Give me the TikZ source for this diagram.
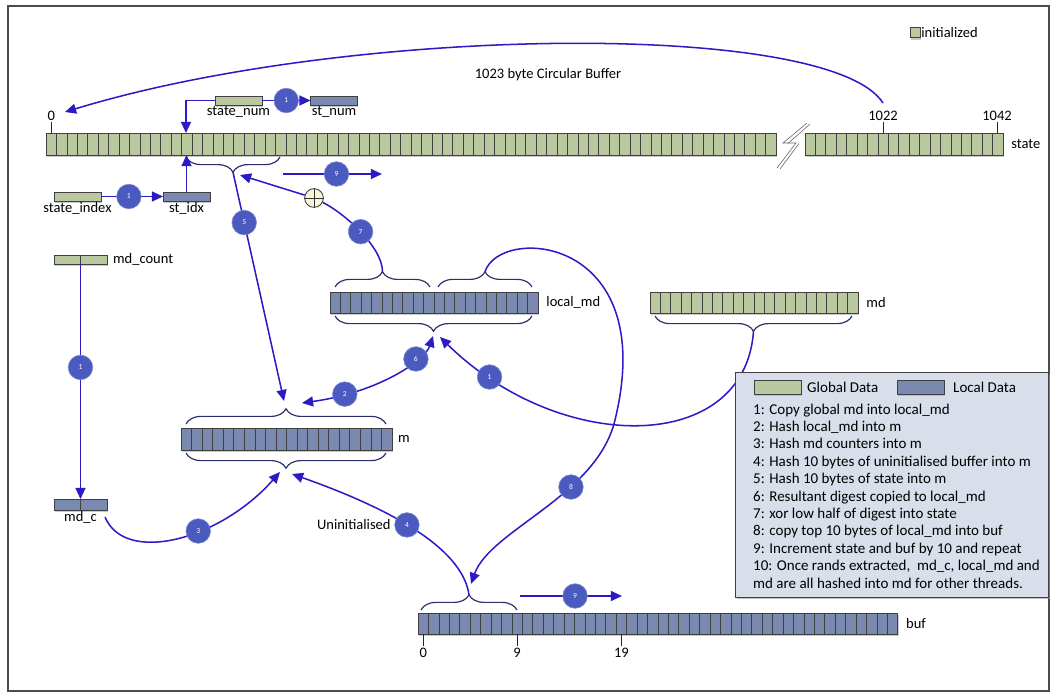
\documentclass[tikz,border=0pt]{standalone}
\usepackage{fontspec}
\setmainfont{Carlito}
\usepackage{tikz}
\usetikzlibrary{arrows.meta}
\usetikzlibrary{decorations.pathreplacing,shadows,calc}

\definecolor{globgreen}{RGB}{186,200,160}
\definecolor{locblue}{RGB}{122,137,176}
\definecolor{flowblue}{RGB}{44,26,196}
\definecolor{stepblue}{RGB}{74,90,190}
\definecolor{bracecol}{RGB}{45,45,105}
\definecolor{keybg}{RGB}{217,222,235}
\definecolor{xorfill}{RGB}{246,246,214}

\tikzset{
  bytecells/.style={draw=black!75, line width=0.8pt, inner sep=0pt, outer sep=0pt,
    drop shadow={shadow xshift=0.8pt, shadow yshift=-1.6pt, fill=black!35, opacity=0.6}},
  cellline/.style={draw=black!75, line width=0.6pt},
  bytebar/.style={bytecells, minimum width=1.41cm, minimum height=0.27cm},
  flow/.style={draw=flowblue, line width=1.3pt, ->},
  flowboth/.style={draw=flowblue, line width=1.3pt, <->},
  stepnum/.style={circle, fill=stepblue, draw=stepblue!70!white, line width=0.5pt,
    text=white, font=\fontsize{6.5}{6.5}\selectfont, minimum size=21pt, inner sep=0pt},
  bracetop/.style={draw=bracecol, line width=1pt, decorate,
    decoration={brace, amplitude=13pt}},
  bracebot/.style={draw=bracecol, line width=1pt, decorate,
    decoration={brace, mirror, amplitude=13pt}},
  lbl/.style={font=\fontsize{12.4}{14}\selectfont, inner sep=1pt},
  keytext/.style={font=\fontsize{12.8}{15}\selectfont, inner sep=0pt},
  idxtick/.style={draw=black!85, line width=0.8pt}
}

% row of cells: name, left, top, count, cell width, height, colour
\newcommand{\cellrow}[7]{%
  \node[bytecells, fill=#7, anchor=north west, minimum width={#4*#5*0.03cm},
    minimum height={#6*0.03cm}] (#1) at (#2,#3) {};
  \pgfmathtruncatemacro{\lastcell}{#4-1}
  \foreach \k in {1,...,\lastcell}
    \draw[cellline] ([xshift={\k*#5*0.03cm}]#1.north west) -- ([xshift={\k*#5*0.03cm}]#1.south west);
}

\begin{document}
\begin{tikzpicture}[x=0.03cm, y=-0.03cm, >={Triangle[length=9.5pt,width=8.5pt]}]
\useasboundingbox (0,0) rectangle (1054,695);
\draw[black!70, line width=1.3pt] (8,6) rectangle (1049,691);

% arrays
\cellrow{state}{46}{133}{70}{10.43}{22}{globgreen}
\cellrow{statehi}{805}{133}{19}{10.42}{22}{globgreen}
\cellrow{localmd}{330}{292}{20}{10.4}{21}{locblue}
\cellrow{md}{650}{292}{20}{10.4}{21}{globgreen}
\cellrow{m}{181}{428}{20}{10.55}{22}{locblue}
\cellrow{buf}{418}{613}{46}{10.43}{21}{locblue}
\cellrow{mdcount}{54}{255}{2}{26.5}{9}{globgreen}
\cellrow{mdc}{54}{499}{2}{26.5}{11}{locblue}

\node[bytebar, fill=globgreen] (snum) at (238.5,100.5) {};
\node[bytebar, fill=locblue] (stnum) at (334,100.5) {};
\node[bytebar, fill=globgreen] (sidx) at (77.5,196.5) {};
\node[bytebar, fill=locblue] (stidx) at (186.5,196.5) {};

% break in state
\draw[black!60, line width=0.5pt] (807,123) -- (783,143) -- (796,143) -- (777,168);
\draw[black!60, line width=0.5pt] (810,124) -- (788,143.5) (799,143.5) -- (780,169);

% labels
\node[lbl, anchor=north] (lsnum) at (snum.south) {state\_num};
\node[lbl, anchor=north] (lstnum) at (stnum.south) {st\_num};
\node[lbl, anchor=north] (lsidx) at (sidx.south) {state\_index};
\node[lbl, anchor=north] (lstidx) at (stidx.south) {st\_idx};
\node[lbl, anchor=west] (lmdcount) at ([xshift=4pt]mdcount.east) {md\_count};
\node[lbl, anchor=north] (lmdc) at (mdc.south) {md\_c};
\node[lbl, anchor=west] (lstate) at ([xshift=6pt]statehi.east) {state};
\node[lbl, anchor=west] (llocalmd) at ([xshift=6pt]localmd.east) {local\_md};
\node[lbl, anchor=west] (lmd) at ([xshift=6pt]md.east) {md};
\node[lbl, anchor=west] (lm) at ([xshift=4pt]m.east) {m};
\node[lbl, anchor=west] (lbuf) at ([xshift=6pt]buf.east) {buf};
\node[lbl] (title) at (548,75) {1023 byte Circular Buffer};
\node[bytecells, fill=globgreen, minimum width=0.3cm, minimum height=0.32cm] (iniswatch) at (915,32.5) {};
\node[lbl, anchor=west] (lini) at (iniswatch.east) {initialized};

% index ticks
\draw[idxtick] (51.2,133) -- (51.2,122) node[lbl, above] (i0) {0};
\draw[idxtick] (883,133) -- (883,122) node[lbl, above] (i1022) {1022};
\draw[idxtick] (997,133) -- (997,122) node[lbl, above] (i1042) {1042};
\draw[idxtick] (423.2,634) -- (423.2,646) node[lbl, below] (b0) {0};
\draw[idxtick] (517,634) -- (517,646) node[lbl, below] (b9) {9};
\draw[idxtick] (621.4,634) -- (621.4,646) node[lbl, below] (b19) {19};

% braces
\draw[bracebot] (186,157) -- coordinate[midway, yshift=-13pt] (stbr) (280,157);
\draw[bracetop] (335,287) -- coordinate[midway, yshift=13pt] (lmdl) (430,287);
\draw[bracetop] (438,287) -- coordinate[midway, yshift=13pt] (lmdr) (532,287);
\draw[bracebot] (335,316) -- coordinate[midway, yshift=-13pt] (lmdb) (532,316);
\draw[bracebot] (655,316) -- coordinate[midway, yshift=-13pt] (mdb) (852,316);
\draw[bracetop] (186,424) -- coordinate[midway, yshift=13pt] (mt) (386,424);
\draw[bracebot] (186,453) -- coordinate[midway, yshift=-13pt] (mb) (386,453);
\draw[bracetop] (421,610) -- coordinate[midway, yshift=13pt] (buft) (517,610);

% free ends
\coordinate (a1022) at (883,103);
\coordinate (a0) at (65,112);
\coordinate (sin) at (186,133);
\coordinate (s7in) at (240,175);
\coordinate (n9a) at (283,174);
\coordinate (n9b) at (382,174);
\coordinate (m5) at (284,401);
\coordinate (m2) at (302,403);
\coordinate (lmd6) at (433,336);
\coordinate (lmd1) at (440,337);
\coordinate (m3) at (280,472);
\coordinate (m4) at (292,474);
\coordinate (mdc3) at (105,517);
\coordinate (buf8) at (471,584);
\coordinate (b9a) at (520,596);
\coordinate (b9b) at (622,596);

% connectors
\draw[flow] (a1022) .. controls (830,20) and (350,25) .. (a0);
\draw[flow] (snum) -- node[stepnum] (c1a) {1} (stnum);
\draw[flow] (snum.west) -| (sin);
\draw[flow] (sidx) -- node[stepnum, pos=0.45] (c1b) {1} (stidx);
\draw[flow] (stidx.north) -- (stidx.north |- state.south);
\draw[flow] (n9a) -- node[stepnum, pos=0.54] (c9a) {9} (n9b);
\draw[flow] (stbr) -- node[stepnum, pos=0.22] (c5) {5} (m5);

\node[circle, draw=black!80, fill=xorfill, line width=0.7pt, minimum size=16pt, inner sep=0pt] (xor) at (314,198) {};
\draw[black!80, line width=0.7pt] (xor.north) -- (xor.south) (xor.west) -- (xor.east);
\draw[flowblue, line width=1.3pt] (lmdl) .. controls +(0,-25) and +(30,15) .. node[stepnum, pos=0.5] (c7) {7} (xor);
\draw[flow] (xor) -- (s7in);

\draw[flowboth] (lmd6) .. controls (425,360) and (380,392) .. node[stepnum, pos=0.3] (c6) {6} node[stepnum, pos=0.8] (c2) {2} (m2);
\draw[flow] (mdb) .. controls (745,455) and (560,455) .. node[stepnum, pos=0.87] (c1c) {1} (lmd1);
\draw[flow] (lmdr) .. controls (500,225) and (660,235) .. (615,420) .. controls (597,496) and (490,530) .. node[stepnum, pos=0.35] (c8) {8} (buf8);
\draw[flow] (buft) .. controls (462,545) and (380,505) .. node[stepnum, pos=0.52] (c4) {4} (m4);
\node[lbl, anchor=east] (unin) at ([xshift=-2pt]c4.west) {Uninitialised};
\draw[flow] (mdc3) .. controls (125,565) and (220,540) .. node[stepnum, pos=0.6] (c3) {3} (m3);
\draw[flow] (mdcount) -- node[stepnum, pos=0.44] (c1d) {1} (mdc);
\draw[flow] (b9a) -- node[stepnum, pos=0.54] (c9b) {9} (b9b);

% key
\node[draw=black!75, line width=1.1pt, fill=keybg, anchor=north west, minimum width=9.39cm, minimum height=6.75cm,
  drop shadow={shadow xshift=1pt, shadow yshift=-1.5pt, fill=black!40, opacity=0.6}] (key) at (735,372) {};
\node[bytecells, fill=globgreen, minimum width=1.41cm, minimum height=0.4cm] (kglob) at (777.5,387.5) {};
\node[keytext, anchor=base west] (lglob) at (807,392) {Global Data};
\node[bytecells, fill=locblue, minimum width=1.41cm, minimum height=0.4cm] (kloc) at (920.5,387.5) {};
\node[keytext, anchor=base west] (lloc) at (953,392) {Local Data};
\foreach \txt [count=\i] in {
  {1: Copy global md into local\_md},
  {2: Hash local\_md into m},
  {3: Hash md counters into m},
  {4: Hash 10 bytes of uninitialised buffer into m},
  {5: Hash 10 bytes of state into m},
  {6: Resultant digest copied to local\_md},
  {7: xor low half of digest into state},
  {8: copy top 10 bytes of local\_md into buf},
  {9: Increment state and buf by 10 and repeat},
  {10: Once rands extracted,\ \ md\_c, local\_md and},
  {md are all hashed into md for other threads.}}
  \node[keytext, anchor=base west] (key\i) at (753,{396.6+17.4*\i}) {\txt};
\end{tikzpicture}
\end{document}
